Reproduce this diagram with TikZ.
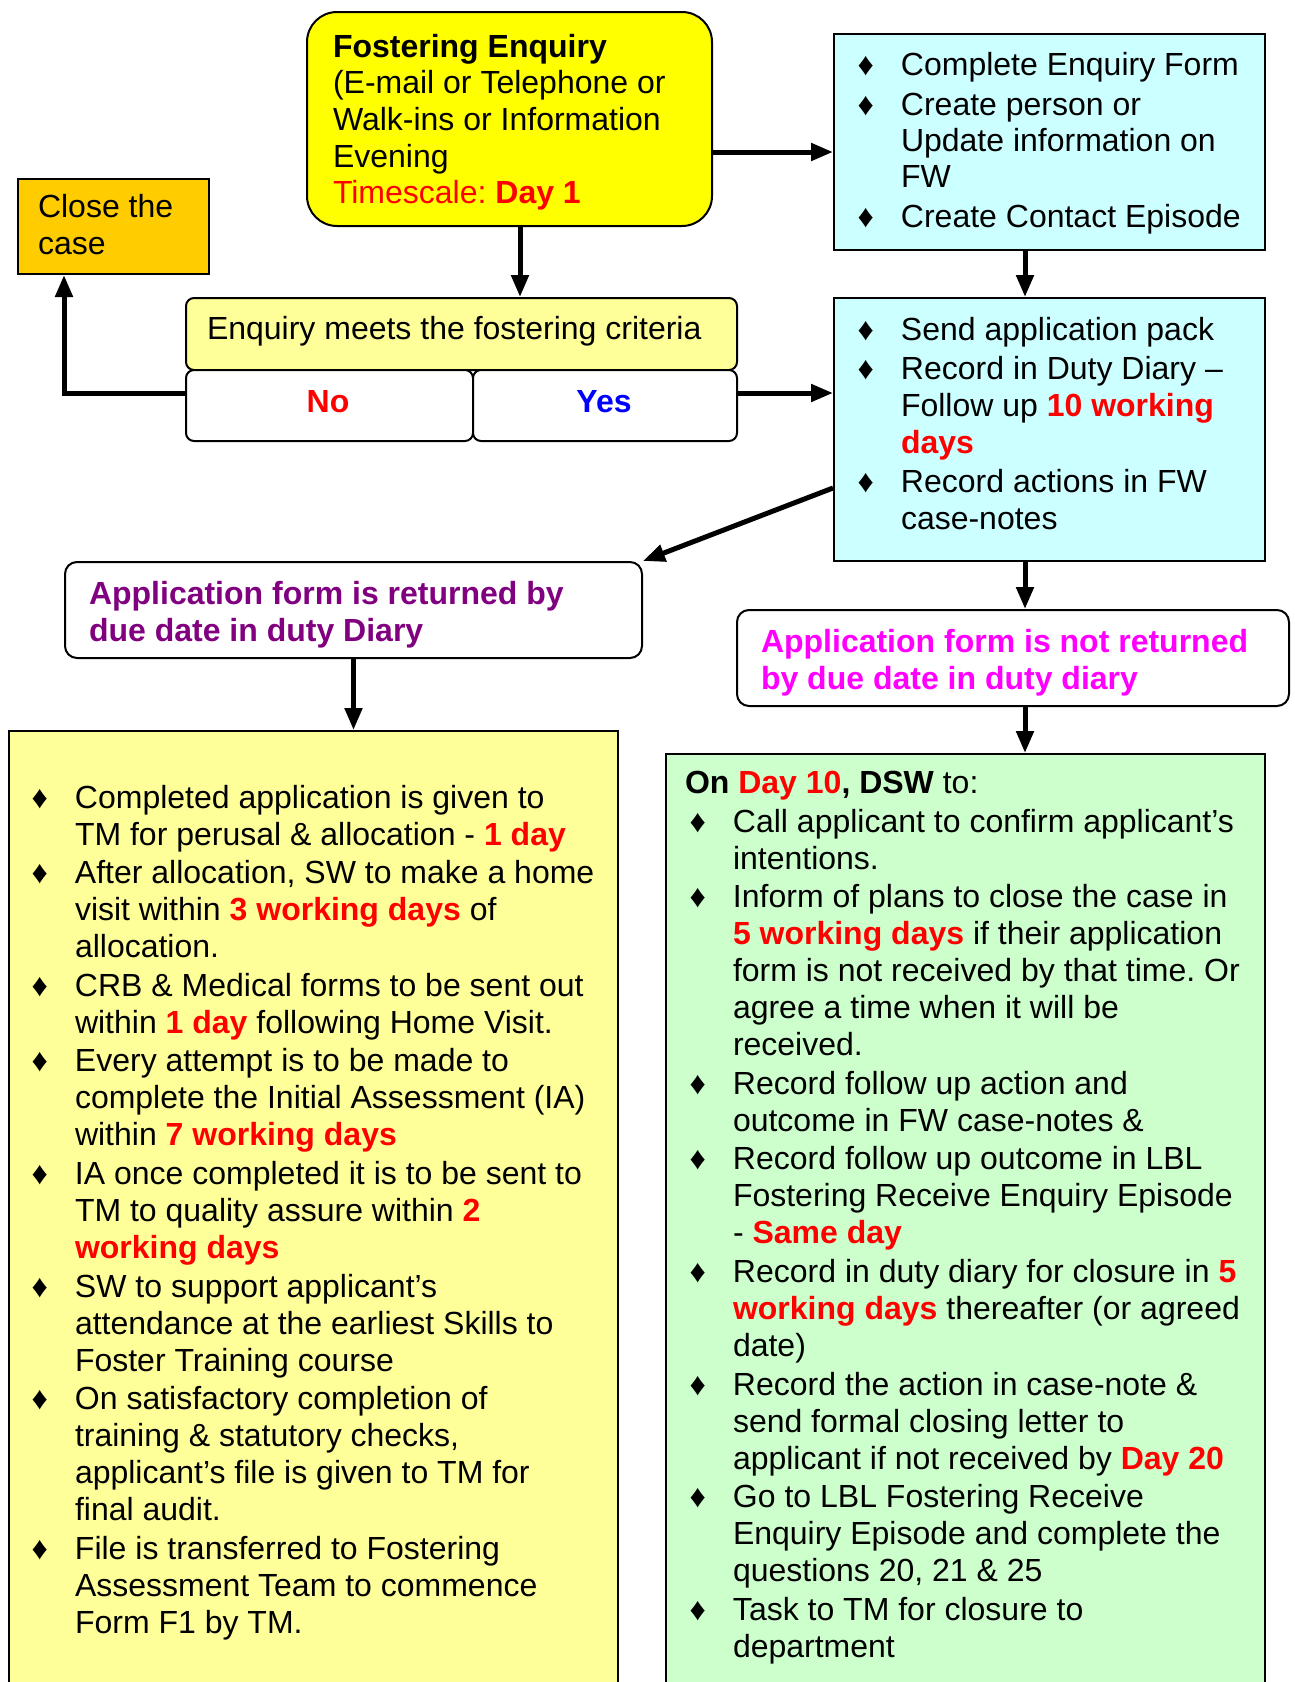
\documentclass[tikz,border=0pt]{standalone}
\usepackage{fontspec}
\setmainfont{Liberation Sans}
\usetikzlibrary{arrows.meta}
\frenchspacing
\definecolor{yelA}{HTML}{FFFF00}
\definecolor{yelB}{HTML}{FFFF99}
\definecolor{orA}{HTML}{FFCC00}
\definecolor{cyA}{HTML}{CCFFFF}
\definecolor{grA}{HTML}{CCFFCC}
\definecolor{redA}{HTML}{FF0000}
\definecolor{bluA}{HTML}{0000FF}
\definecolor{purA}{HTML}{800080}
\definecolor{magA}{HTML}{FF00FF}
\newcommand\rb[1]{\textcolor{redA}{\bfseries #1}}
\newcommand\bl[1]{\par\leavevmode\llap{♦\hspace{27pt}}#1}
\tikzset{
  box/.style={draw=black, line width=2pt, inner sep=0pt, anchor=north west},
  arr/.style={line width=5pt, -{Triangle[length=22pt,width=17pt]}},
  txt/.style={anchor=base west, inner sep=0pt, outer sep=0pt, align=left},
}
\begin{document}
\frenchspacing
\begin{tikzpicture}[x=1pt,y=-1pt]
\clip (0,0) rectangle (1294,1682);
\useasboundingbox (0,0) rectangle (1294,1682);
\fill[white] (0,0) rectangle (1294,1682);

% boxes
\node[box, fill=yelA, rounded corners=30pt, minimum width=405pt, minimum height=214pt] (fe) at (306,11) {};
\node[box, fill=orA, minimum width=191pt, minimum height=95pt] (close) at (17,178) {};
\node[box, fill=cyA, minimum width=431pt, minimum height=216pt] (c1) at (833,33) {};
\node[box, fill=cyA, minimum width=431pt, minimum height=263pt] (c2) at (833,297) {};
\node[box, fill=yelB, rounded corners=8pt, minimum width=551pt, minimum height=72pt] (crit) at (185,297) {};
\node[box, fill=white, rounded corners=8pt, minimum width=287pt, minimum height=71pt] (no) at (185,369) {};
\node[box, fill=white, rounded corners=8pt, minimum width=264pt, minimum height=71pt] (yes) at (472,369) {};
\node[box, fill=white, rounded corners=12pt, minimum width=577pt, minimum height=96pt] (app1) at (64,561) {};
\node[box, fill=white, rounded corners=12pt, minimum width=552pt, minimum height=96pt] (app2) at (736,609) {};
\node[box, fill=yelB, minimum width=609pt, minimum height=1000pt] (big) at (8,730) {};
\node[box, fill=grA, minimum width=599pt, minimum height=1000pt] (green) at (665,753) {};

% texts
\node[txt] (tfe) at (333,57) {\fontsize{32}{36.7}\selectfont\begin{minipage}[t]{370pt}\raggedright
\textbf{Fostering Enquiry}\\
(E-mail or Telephone or\\
Walk-ins or Information\\
Evening\\
\textcolor{redA}{Timescale: \textbf{Day 1}}\end{minipage}};

\node[txt] (tclose) at (38,217) {\fontsize{32}{37}\selectfont\begin{minipage}[t]{165pt}\raggedright
Close the\\ case\end{minipage}};

\node[txt] (tc1) at (901,75) {\fontsize{32}{36}\selectfont\begin{minipage}[t]{360pt}\raggedright\setlength\parskip{4pt}%
\bl{Complete Enquiry Form}
\bl{Create person or\\ Update information on\\ FW}
\bl{Create Contact Episode}\end{minipage}};

\node[txt] (tcrit) at (207,339) {\fontsize{32}{37}\selectfont Enquiry meets the fostering criteria};
\node[anchor=base, inner sep=0pt] (tno) at (328,412) {\fontsize{32}{37}\selectfont\textcolor{redA}{\bfseries No}};
\node[anchor=base, inner sep=0pt] (tyes) at (604,412) {\fontsize{32}{37}\selectfont\textcolor{bluA}{\bfseries Yes}};

\node[txt] (tc2) at (901,340) {\fontsize{32}{37}\selectfont\begin{minipage}[t]{360pt}\raggedright\setlength\parskip{2pt}%
\bl{Send application pack}
\bl{Record in Duty Diary –\\ Follow up \rb{10 working}\\ \rb{days}}
\bl{Record actions in FW\\ case-notes}\end{minipage}};

\node[txt] (tapp1) at (89,604) {\fontsize{32}{37}\selectfont\begin{minipage}[t]{540pt}\raggedright
\textcolor{purA}{\bfseries Application form is returned by\\ due date in duty Diary}\end{minipage}};

\node[txt] (tapp2) at (761,652) {\fontsize{32}{37}\selectfont\begin{minipage}[t]{520pt}\raggedright
\textcolor{magA}{\bfseries Application form is not returned\\ by due date in duty diary}\end{minipage}};

\node[txt] (tbig) at (75,808) {\fontsize{32}{37}\selectfont\begin{minipage}[t]{540pt}\raggedright\setlength\parskip{1.6pt}%
\bl{Completed application is given to\\ TM for perusal \& allocation - \rb{1 day}}
\bl{After allocation, SW to make a home\\ visit within \rb{3 working days} of\\ allocation.}
\bl{CRB \& Medical forms to be sent out\\ within \rb{1 day} following Home Visit.}
\bl{Every attempt is to be made to\\ complete the Initial Assessment (IA)\\ within \rb{7 working days}}
\bl{IA once completed it is to be sent to\\ TM to quality assure within \rb{2}\\ \rb{working days}}
\bl{SW to support applicant’s\\ attendance at the earliest Skills to\\ Foster Training course}
\bl{On satisfactory completion of\\ training \& statutory checks,\\ applicant’s file is given to TM for\\ final audit.}
\bl{File is transferred to Fostering\\ Assessment Team to commence\\ Form F1 by TM.}\end{minipage}};

\node[txt] (tghead) at (685,793) {\fontsize{32}{37}\selectfont\textbf{On} \rb{Day 10}\textbf{, DSW} to:};

\node[txt] (tg) at (733,832) {\fontsize{32}{37}\selectfont\begin{minipage}[t]{531pt}\raggedright\setlength\parskip{1.6pt}%
\bl{Call applicant to confirm applicant’s\\ intentions.}
\bl{Inform of plans to close the case in\\ \rb{5 working days} if their application\\ form is not received by that time. Or\\ agree a time when it will be\\ received.}
\bl{Record follow up action and\\ outcome in FW case-notes \&}
\bl{Record follow up outcome in LBL\\ Fostering Receive Enquiry Episode\\ - \rb{Same day}}
\bl{Record in duty diary for closure in \rb{5}\\ \rb{working days} thereafter (or agreed\\ date)}
\bl{Record the action in case-note \&\\ send formal closing letter to\\ applicant if not received by \rb{Day 20}}
\bl{Go to LBL Fostering Receive\\ Enquiry Episode and complete the\\ questions 20, 21 \& 25}
\bl{Task to TM for closure to\\ department}\end{minipage}};

% connectors
\coordinate (xa) at (520,0);
\coordinate (xb) at (1025,0);
\coordinate (xc) at (64,0);
\coordinate (ya) at (0,152);
\coordinate (yb) at (0,393);
\coordinate (yc) at (0,488);
\draw[arr] (fe.south -| xa) -- (crit.north -| xa);
\draw[arr] (fe.east |- ya) -- (c1.west |- ya);
\draw[arr] (c1.south -| xb) -- (c2.north -| xb);
\draw[arr] (yes.east |- yb) -- (c2.west |- yb);
\draw[arr] (no.west |- yb) -| (close.south -| xc);
\draw[arr] (c2.west |- yc) -- (app1.north east);
\draw[arr] (app1.south) -- (app1.south |- big.north);
\draw[arr] (c2.south -| xb) -- (app2.north -| xb);
\draw[arr] (app2.south -| xb) -- (green.north -| xb);
\end{tikzpicture}
\end{document}
